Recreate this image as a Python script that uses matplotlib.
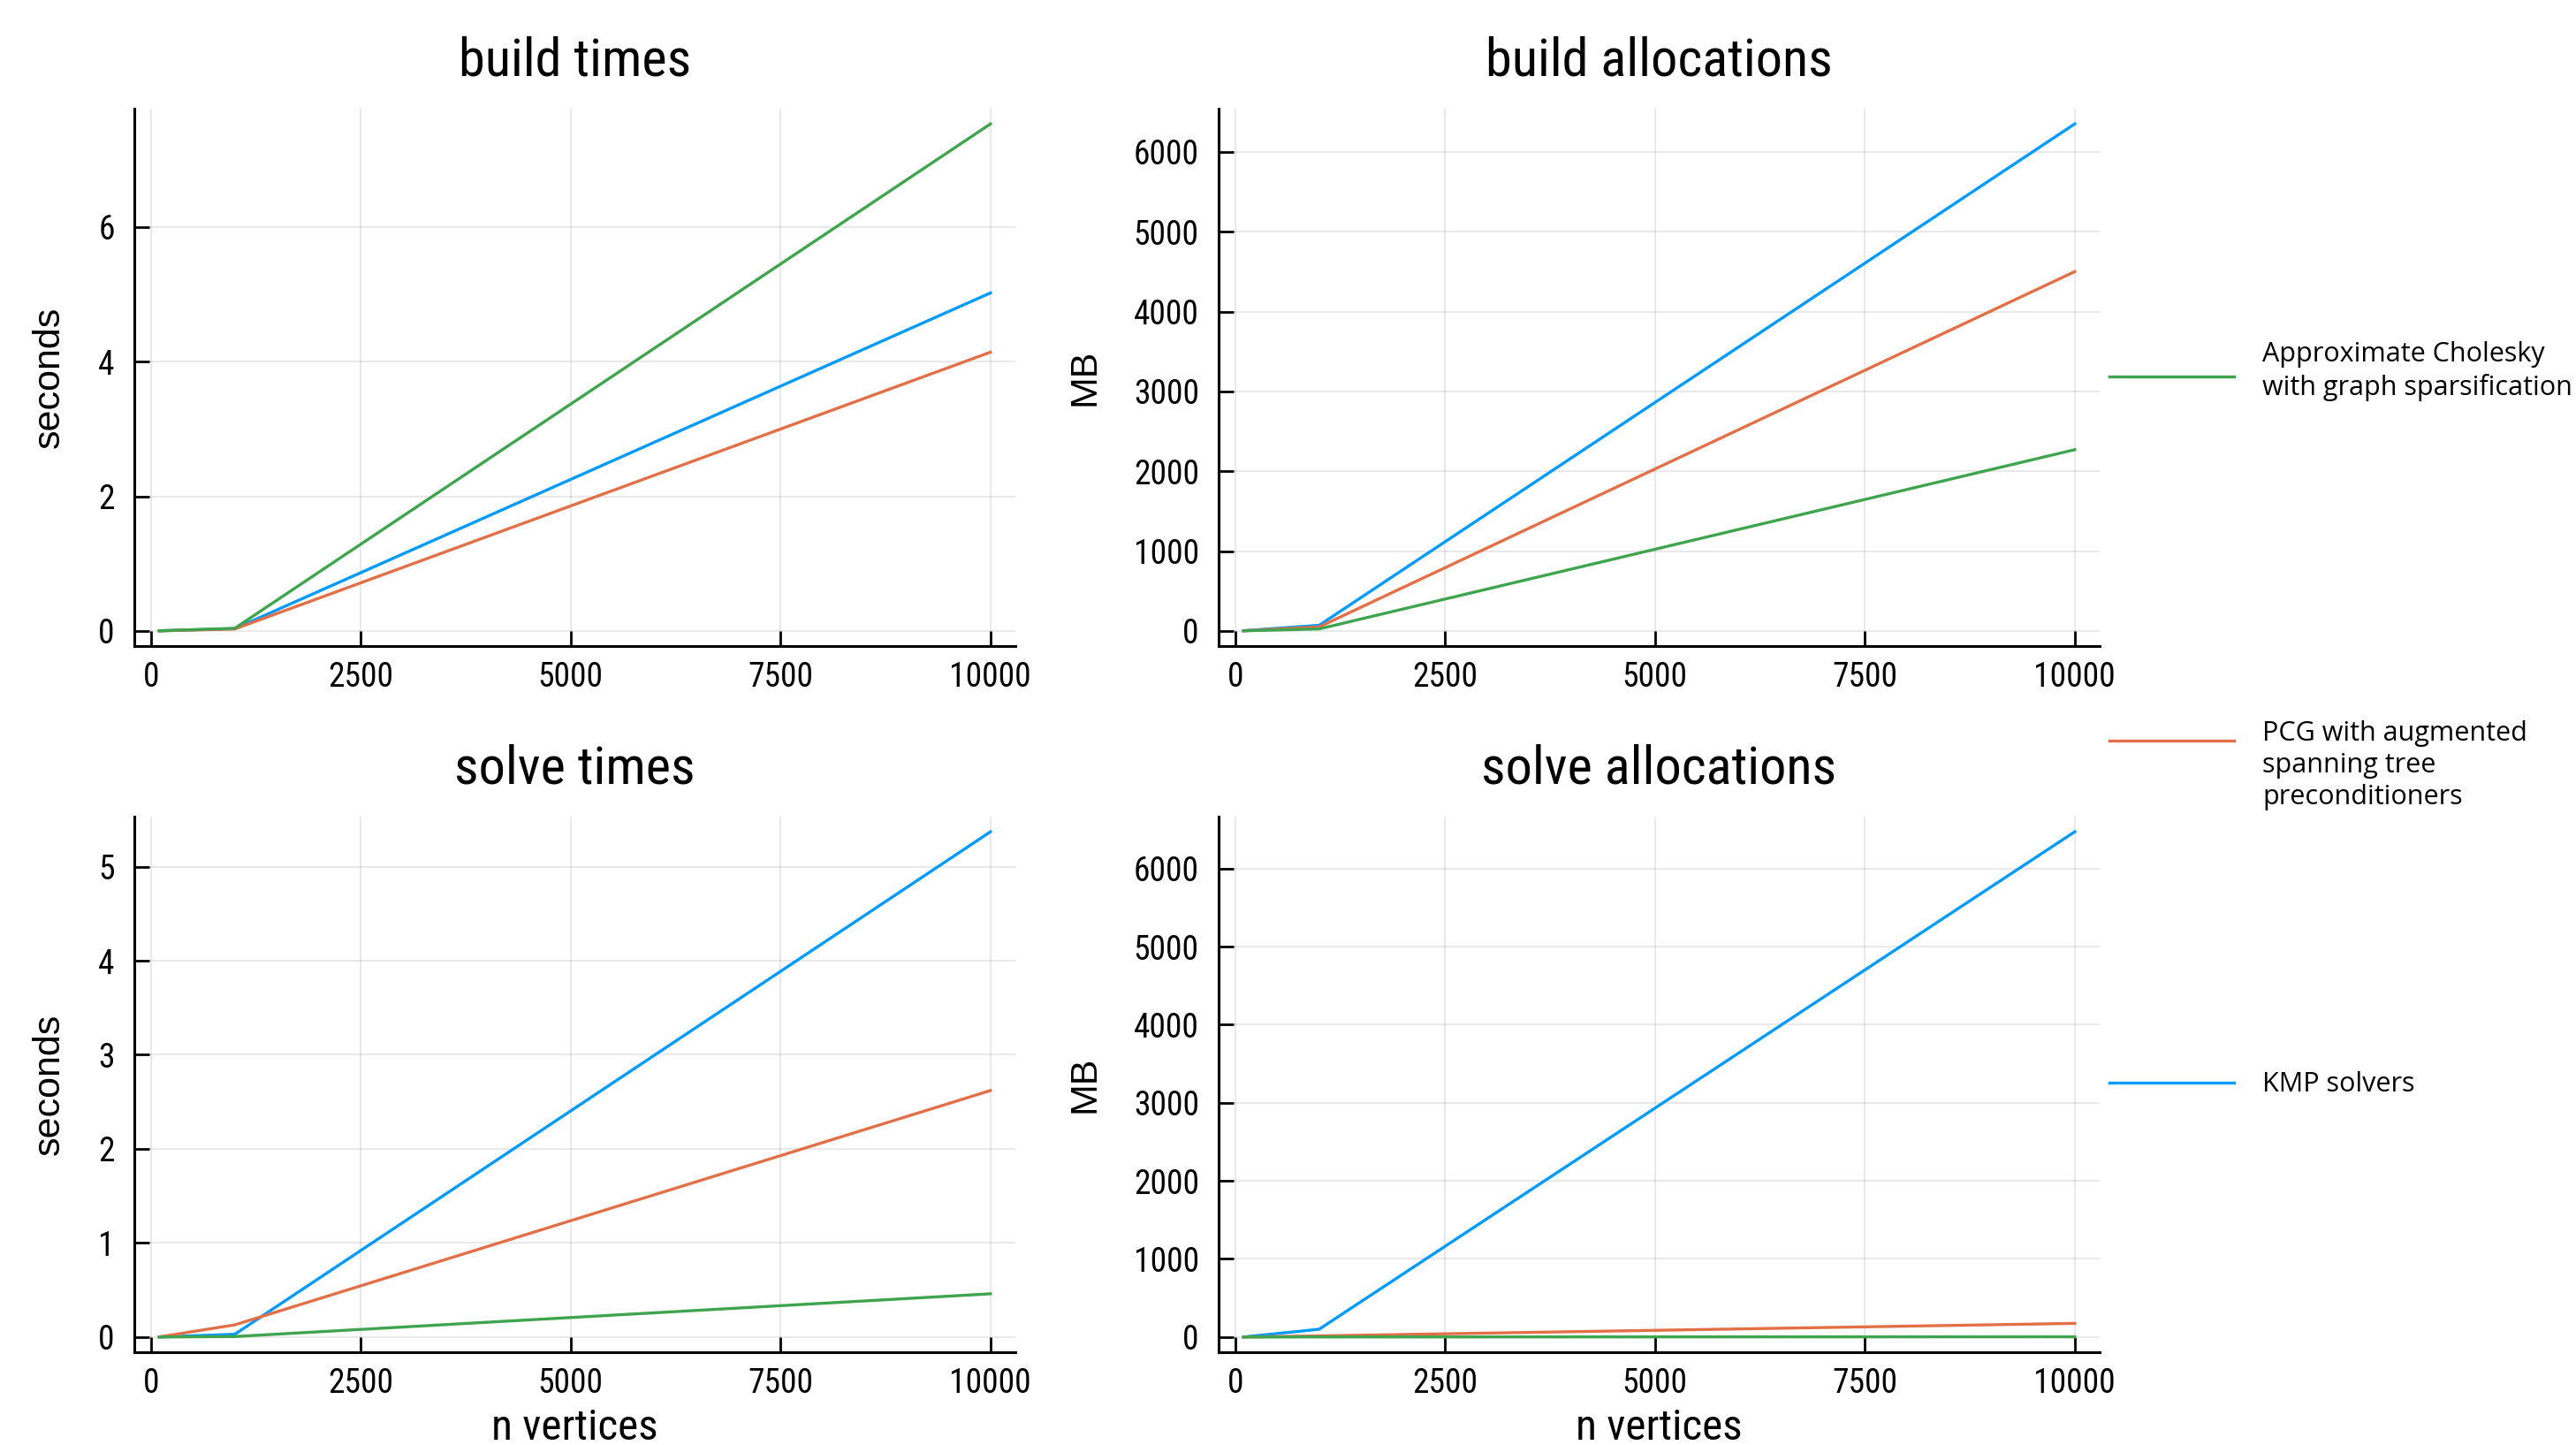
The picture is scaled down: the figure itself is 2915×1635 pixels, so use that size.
import matplotlib
matplotlib.use('Agg')
import matplotlib.pyplot as plt
from matplotlib.lines import Line2D

# number of vertices
n_vertices = [100, 1000, 10000]

# build times (seconds)
build_time_chol = [0.003, 0.04, 7.53]
build_time_pcg = [0.002, 0.03, 4.14]
build_time_kmp = [0.002, 0.035, 5.02]

# build allocations (MB)
build_alloc_chol = [1, 25, 2270]
build_alloc_pcg = [2, 50, 4500]
build_alloc_kmp = [3, 70, 6350]

# solve times (seconds)
solve_time_chol = [0.0005, 0.006, 0.46]
solve_time_pcg = [0.002, 0.13, 2.62]
solve_time_kmp = [0.001, 0.03, 5.37]

# solve allocations (MB)
solve_alloc_chol = [0.05, 1, 3]
solve_alloc_pcg = [0.2, 15, 175]
solve_alloc_kmp = [0.5, 100, 6470]

labels = ["Approximate Cholesky\nwith graph sparsification",
          "PCG with augmented\nspanning tree\npreconditioners",
          "KMP solvers"]
colors = ["#3ea44e", "#e36f47", "#009afa"]

x_ticks = [0, 2500, 5000, 7500, 10000]

narrow = ['Roboto Condensed', 'IBM Plex Sans Condensed', 'DejaVu Sans']
regular = ['Liberation Sans', 'DejaVu Sans']
legend_font = ['Open Sans', 'DejaVu Sans']

W, H = 2915, 1635
fig = plt.figure(figsize=(W / 100, H / 100), dpi=100)


def add_axes(left, top, right, bottom):
    return fig.add_axes([left / W, 1 - bottom / H, (right - left) / W, (bottom - top) / H])


panels = [
    ("build times", "seconds", (152, 123, 1149, 731),
     [build_time_chol, build_time_pcg, build_time_kmp], [0, 2, 4, 6], False),
    ("build allocations", "MB", (1379, 123, 2376, 731),
     [build_alloc_chol, build_alloc_pcg, build_alloc_kmp], [0, 1000, 2000, 3000, 4000, 5000, 6000], False),
    ("solve times", "seconds", (152, 924, 1149, 1530),
     [solve_time_chol, solve_time_pcg, solve_time_kmp], [0, 1, 2, 3, 4, 5], True),
    ("solve allocations", "MB", (1379, 924, 2376, 1530),
     [solve_alloc_chol, solve_alloc_pcg, solve_alloc_kmp], [0, 1000, 2000, 3000, 4000, 5000, 6000], True),
]

for title, ylabel, box, series, yt, show_x in panels:
    ax = add_axes(*box)
    # kmp first, then pcg, cholesky on top
    for ys, c in zip(series[::-1], colors[::-1]):
        ax.plot(n_vertices, ys, color=c, lw=2.4)
    ax.margins(x=0.03, y=0.03)
    ax.set_xticks(x_ticks)
    ax.set_yticks(yt)
    ax.grid(True, color='black', alpha=0.1, lw=1.2)
    ax.set_axisbelow(True)
    for s in ['top', 'right']:
        ax.spines[s].set_visible(False)
    for s in ['left', 'bottom']:
        ax.spines[s].set_linewidth(2.2)
    ax.tick_params(direction='in', length=12, width=2, labelsize=27)
    ax.tick_params(axis='y', pad=16)
    ax.tick_params(axis='x', pad=12)
    for lab in ax.get_xticklabels() + ax.get_yticklabels():
        lab.set_family(narrow)
    ax.set_title(title, fontsize=43.5, family=narrow, y=1 + 54 / (box[3] - box[1]), va='center', pad=0)
    ax.set_ylabel(ylabel, fontsize=31, family=regular, va='center')
    yl_x = 56 if box[0] < 1000 else 1227
    ax.yaxis.set_label_coords((yl_x - box[0]) / (box[2] - box[0]), 0.5)
    if show_x:
        ax.set_xlabel("n vertices", fontsize=35.5, family=narrow, va='center')
        ax.xaxis.set_label_coords(0.5, -86 / (box[3] - box[1]))

# legend on the right
leg_line_y = [426, 838, 1225]
leg_text_y = [420, 866, 1227]
for lab, c, ly, ty in zip(labels, colors, leg_line_y, leg_text_y):
    fig.add_artist(Line2D([2387 / W, 2528 / W], [1 - ly / H, 1 - ly / H], color=c, lw=2.4))
    fig.text(2560 / W, 1 - ty / H, lab, fontsize=22, family=legend_font,
             va='center', ha='left', linespacing=1.28)

fig.savefig('out.png', dpi=100)
